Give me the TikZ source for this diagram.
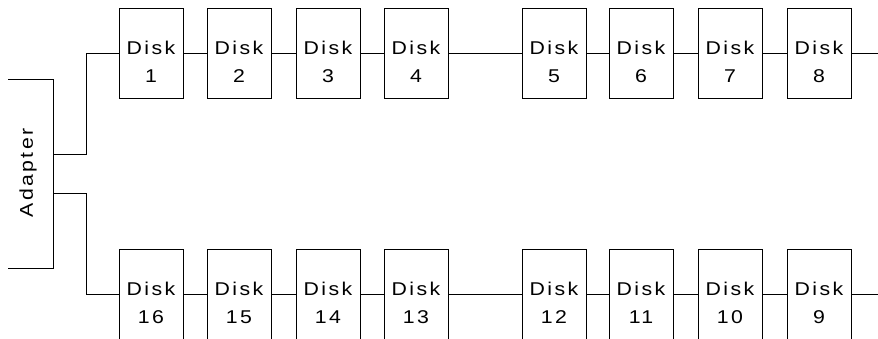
\documentclass[tikz,border=0pt]{standalone}
\usepackage{fontspec}
\newfontfamily\dfont{Liberation Sans}[LetterSpace=13, FakeStretch=1.15]
\newcommand{\disklabel}[1]{\makebox[0pt]{\raisebox{-1.5pt}[0pt][0pt]{Disk}}\makebox[0pt]{\raisebox{-29pt}[0pt][0pt]{#1}}}
\tikzset{
  diskbox/.style={draw, line width=0.9pt, minimum width=64pt, minimum height=90pt, inner sep=0pt, font=\dfont\fontsize{18.5}{20}\selectfont},
  wire/.style={line width=0.9pt},
}
\begin{document}
\begin{tikzpicture}[x=1pt,y=-1pt]
\useasboundingbox (0,0) rectangle (878,338);
% top row
\foreach \n/\x in {1/151,2/239,3/328,4/416,5/554,6/641,7/730,8/819}{
  \node[diskbox] (d\n) at (\x,53) {\disklabel{\n}};
}
% bottom row
\foreach \n/\x in {16/151,15/239,14/328,13/416,12/554,11/641,10/730,9/819}{
  \node[diskbox] (d\n) at (\x,294) {\disklabel{\n}};
}
% adapter
\node[font=\dfont\fontsize{18.5}{20}\selectfont, rotate=90, inner sep=0pt] (adapter) at (28,173) {Adapter};
\coordinate (atl) at (8,79);
\coordinate (atr) at (53,79);
\coordinate (abr) at (53,268);
\coordinate (abl) at (8,268);
\draw[wire] (atl) -- (atr) -- (abr) -- (abl);
\coordinate (p1) at (53,154);
\coordinate (p2) at (53,193);
\coordinate (b1) at (86,154);
\coordinate (b2) at (86,193);
\draw[wire] (p1) -- (b1) |- (d1.west);
\draw[wire] (p2) -- (b2) |- (d16.west);
% chains
\foreach \a/\b in {1/2,2/3,3/4,4/5,5/6,6/7,7/8,16/15,15/14,14/13,13/12,12/11,11/10,10/9}{
  \draw[wire] (d\a.east) -- (d\b.west);
}
\coordinate (e1) at (878,53);
\coordinate (e2) at (878,294);
\draw[wire] (d8.east) -- (e1);
\draw[wire] (d9.east) -- (e2);
\end{tikzpicture}
\end{document}
